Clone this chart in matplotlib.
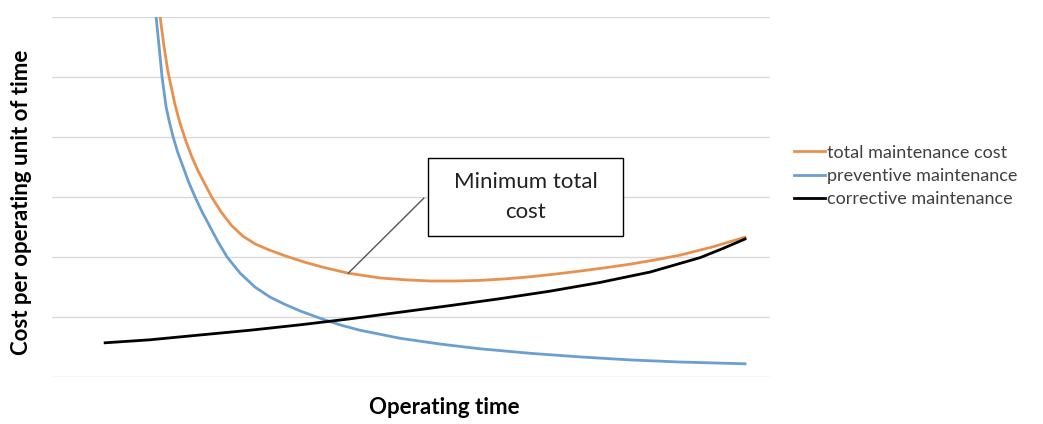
import matplotlib
matplotlib.use("Agg")
import matplotlib.pyplot as plt
from matplotlib.patches import Rectangle

plt.rcParams['font.family'] = ['Lato', 'DejaVu Sans']

# operating time (0..100) and cost per unit time
prev_t = [7.97, 8.44, 8.9, 9.53, 10.05, 10.63, 11.33, 12.19, 13.05, 14.06, 15.16, 16.41,
          17.66, 19.06, 21.1, 23.4, 25.8, 28.1, 30.5, 32.8, 34.4, 37.0, 39.8,
          46.1, 52.3, 58.6, 66.4, 74.2, 82.0, 89.8, 100]
prev_c = [6.0, 5.5, 5.0, 4.5, 4.25, 4.0, 3.75, 3.5, 3.25, 3.0, 2.75, 2.5,
          2.25, 2.0, 1.73, 1.5, 1.33, 1.21, 1.10, 1.01, 0.95, 0.86, 0.78,
          0.645, 0.55, 0.47, 0.395, 0.335, 0.285, 0.25, 0.22]

corr_t = [0, 7.0, 14.8, 22.7, 30.5, 38.3, 46.1, 53.9, 61.7, 69.5, 77.3, 85.2, 93.0, 96.5, 100]
corr_c = [0.57, 0.62, 0.70, 0.78, 0.87, 0.97, 1.08, 1.19, 1.305, 1.43, 1.575, 1.75, 1.99, 2.14, 2.3]

total_t = [8.6, 9.15, 9.8, 10.9, 11.6, 12.5, 13.4, 14.5, 16.7, 18.2, 19.8, 21.5, 23.4,
           25.8, 28.4, 31.3, 34.4, 38.0, 43.0, 46.9, 50.8, 54.7, 58.6, 62.5, 66.4,
           70.3, 74.2, 78.1, 82.0, 85.9, 89.8, 95.0, 100]
total_c = [6.0, 5.55, 5.1, 4.55, 4.27, 3.97, 3.71, 3.44, 2.99, 2.74, 2.52, 2.35, 2.22,
           2.11, 2.01, 1.91, 1.82, 1.73, 1.65, 1.62, 1.60, 1.60, 1.61, 1.635, 1.67,
           1.715, 1.765, 1.82, 1.88, 1.95, 2.03, 2.17, 2.33]

labels = ['total maintenance cost', 'preventive maintenance', 'corrective maintenance']
colors = ['#E8914E', '#6A9FD0', '#000000']

# where the callout points to on the total cost curve
min_t, min_c = 38.0, 1.73

fig = plt.figure(figsize=(10.43, 4.24), dpi=100)
ax = fig.add_axes([52/1043, 1 - 377/424, (770 - 52)/1043, 360/424])

ax.plot(total_t, total_c, color=colors[0], lw=2, label=labels[0], solid_joinstyle='round')
ax.plot(prev_t, prev_c, color=colors[1], lw=2, label=labels[1], solid_joinstyle='round')
ax.plot(corr_t, corr_c, color=colors[2], lw=2, label=labels[2], solid_joinstyle='round')

ax.set_xlim(-8.3, 103.9)
ax.set_ylim(0, 6)
ax.set_yticks(range(0, 7))
ax.set_xticks([])
ax.tick_params(axis='y', length=0, labelleft=False)
ax.grid(axis='y', color='#D9D9D9', lw=1)
ax.set_axisbelow(True)
for s in ax.spines.values():
    s.set_visible(False)

# callout box
ax.add_patch(Rectangle((50.5, 2.35), 30.4, 1.3, fill=True, facecolor='white',
                       edgecolor='#000000', lw=1, zorder=5))
ax.plot([min_t, 49.8], [min_c, 2.98], color='#555555', lw=1, zorder=4)
ax.text(65.7, 3.25, 'Minimum total', ha='center', va='center', fontsize=16, color='#222222', zorder=6)
ax.text(65.7, 2.75, 'cost', ha='center', va='center', fontsize=16, color='#222222', zorder=6)

fig.text(444/1043, 1 - 408/424, 'Operating time', ha='center', va='center',
         fontsize=16, fontweight='bold')
fig.text(22/1043, 1 - 202/424, 'Cost per operating unit of time', ha='center', va='center',
         rotation=90, fontsize=16, fontweight='bold')

fig.legend(loc='center left', bbox_to_anchor=(778/1043, 1 - 176/424), frameon=False,
           handlelength=1.7, handletextpad=0.1, labelspacing=0.4, fontsize=13,
           labelcolor='#404040')

fig.savefig('out.png', dpi=100)
